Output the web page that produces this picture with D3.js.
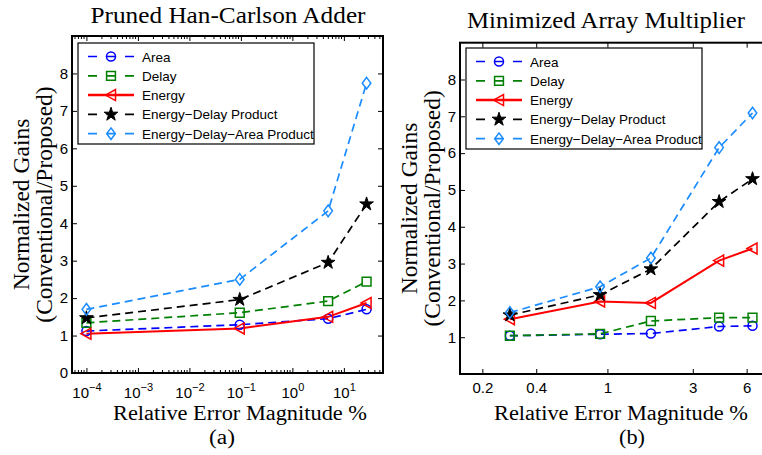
<!DOCTYPE html>
<html>
<head>
<meta charset="utf-8">
<script src="https://cdn.jsdelivr.net/npm/d3@7"></script>
<style>
  body { margin: 0; background: #fff; }
  svg { display: block; }
  .serif { font-family: "Liberation Serif", "DejaVu Serif", serif; }
  .sans { font-family: "Liberation Sans", Arial, sans-serif; }
</style>
</head>
<body>
<svg id="chart" width="762" height="455"></svg>
<script>
// ---- data ----
const seriesNames = ["Area", "Delay", "Energy", "Energy\u2212Delay Product", "Energy\u2212Delay\u2212Area Product"];

// (a) Pruned Han-Carlson Adder
const errA = [0.0001, 0.095, 4.95, 27.6];
const areaA = [1.12, 1.29, 1.45, 1.70];
const delayA = [1.34, 1.61, 1.92, 2.44];
const energyA = [1.05, 1.19, 1.50, 1.87];
const edpA = [1.47, 1.96, 2.95, 4.51];
const edapA = [1.70, 2.50, 4.33, 7.74];

// (b) Minimized Array Multiplier
const errB = [0.285, 0.91, 1.75, 4.21, 6.47];
const areaB = [1.04, 1.08, 1.10, 1.29, 1.31];
const delayB = [1.04, 1.09, 1.44, 1.53, 1.53];
const energyB = [1.49, 1.97, 1.93, 3.08, 3.41];
const edpB = [1.60, 2.15, 2.85, 4.68, 5.30];
const edapB = [1.67, 2.37, 3.15, 6.15, 7.09];

const yTicksA = [0, 1, 2, 3, 4, 5, 6, 7, 8];
const yTicksB = [1, 2, 3, 4, 5, 6, 7, 8];
const xTicksA = [-4, -3, -2, -1, 0, 1];       // exponents
const xTicksB = [0.2, 0.4, 1, 3, 6];

const colors = ["#0000ff", "#008000", "#ff0000", "#000000", "#1a8cff"];
const markers = ["circle", "square", "triangle", "star", "diamond"];

const svg = d3.select("#chart");

function markerPath(kind) {
  if (kind === "circle") return d3.symbol(d3.symbolCircle, 64)();
  if (kind === "square") return d3.symbol(d3.symbolSquare, 78)();
  if (kind === "star") return d3.symbol(d3.symbolStar, 58)();
  if (kind === "triangle") return "M-5.5,0L4.5,-5.5L4.5,5.5Z";
  return "M0,-5.8L4.3,0L0,5.8L-4.3,0Z";
}

function drawMarker(g, kind, color, x, y) {
  g.append("path")
    .attr("d", markerPath(kind))
    .attr("transform", `translate(${x},${y})`)
    .attr("fill", kind === "star" ? color : "none")
    .attr("stroke", color)
    .attr("stroke-width", kind === "star" ? 1 : 1.5);
}

// serif label stretched to the width it has in the original figure
function serifText(g, x, y, size, len, txt) {
  return g.append("text").attr("class", "serif")
    .attr("x", x).attr("y", y)
    .attr("text-anchor", "middle").attr("font-size", size)
    .attr("textLength", len).attr("lengthAdjust", "spacingAndGlyphs").text(txt);
}

function panel(opt) {
  const g = svg.append("g");
  const x = opt.x, y = opt.y;
  const [x0, x1] = x.range();
  const [y0, y1] = y.range();

  g.append("defs").append("clipPath").attr("id", "clip" + opt.id)
    .append("rect").attr("x", x0).attr("y", y1).attr("width", x1 - x0).attr("height", y0 - y1);

  // data lines and markers
  const line = d3.line().x(d => x(d[0])).y(d => y(d[1]));
  const plot = g.append("g").attr("clip-path", `url(#clip${opt.id})`);
  opt.series.forEach((vals, i) => {
    const pts = opt.xs.map((xv, j) => [xv, vals[j]]);
    plot.append("path")
      .attr("d", line(pts))
      .attr("fill", "none")
      .attr("stroke", colors[i])
      .attr("stroke-width", i === 2 ? 2 : 1.7)
      .attr("stroke-dasharray", i === 2 ? null : "8,5");
  });
  opt.series.forEach((vals, i) => {
    opt.xs.forEach((xv, j) => drawMarker(plot, markers[i], colors[i], x(xv), y(vals[j])));
  });

  // ticks (inward) on all four sides
  const ax = g.append("g").attr("class", "sans");
  const bottom = d3.axisBottom(x).tickValues(opt.xTickVals).tickSizeInner(-5).tickSizeOuter(0)
    .tickPadding(opt.xPad).tickFormat(opt.xFmt);
  const top = d3.axisTop(x).tickValues(opt.xTickVals).tickSizeInner(-5).tickSizeOuter(0).tickFormat("");
  const left = d3.axisLeft(y).tickValues(opt.yTickVals).tickSizeInner(-5).tickSizeOuter(0).tickPadding(4);
  const right = d3.axisRight(y).tickValues(opt.yTickVals).tickSizeInner(-5).tickSizeOuter(0).tickFormat("");

  const bg = ax.append("g").attr("transform", `translate(0,${y0})`).call(bottom);
  ax.append("g").attr("transform", `translate(0,${y1})`).call(top);
  ax.append("g").attr("transform", `translate(${x0},0)`).call(left);
  ax.append("g").attr("transform", `translate(${x1},0)`).call(right);

  if (opt.minor) {
    opt.minor.forEach(v => {
      ax.append("line").attr("x1", x(v)).attr("x2", x(v)).attr("y1", y0).attr("y2", y0 - 3).attr("stroke", "#000");
      ax.append("line").attr("x1", x(v)).attr("x2", x(v)).attr("y1", y1).attr("y2", y1 + 3).attr("stroke", "#000");
    });
  }

  ax.selectAll(".domain").remove();
  ax.selectAll(".tick line").attr("stroke", "#000");
  ax.selectAll("text").attr("font-size", 15).attr("fill", "#000");
  if (opt.superscript) {
    bg.selectAll(".tick text").each(function (d) {
      const e = Math.round(Math.log10(d));
      const t = d3.select(this).text("");
      t.append("tspan").text("10");
      t.append("tspan").attr("dy", -7).attr("font-size", 11).text(e < 0 ? "\u2212" + Math.abs(e) : e);
    });
  }

  // frame
  g.append("rect").attr("x", x0).attr("y", y1).attr("width", x1 - x0).attr("height", y0 - y1)
    .attr("fill", "none").attr("stroke", "#000").attr("stroke-width", 2);

  // legend
  const lg = g.append("g").attr("transform", `translate(${opt.legend[0]},${opt.legend[1]})`);
  lg.append("rect").attr("width", 236).attr("height", 101).attr("fill", "#fff")
    .attr("stroke", "#000").attr("stroke-width", 1.2);
  seriesNames.forEach((name, i) => {
    const ry = 13.5 + i * 19.3;
    lg.append("line").attr("x1", 10).attr("x2", 56).attr("y1", ry).attr("y2", ry)
      .attr("stroke", colors[i]).attr("stroke-width", i === 2 ? 2.5 : 1.7)
      .attr("stroke-dasharray", i === 2 ? null : "9,9.5,9,9.5,9");
    drawMarker(lg, markers[i], colors[i], 33, ry);
    lg.append("text").attr("class", "sans").attr("x", 64).attr("y", ry + 5)
      .attr("font-size", 13.5).text(name);
  });

  // titles and labels
  serifText(g, opt.titleX, opt.titleY, 24, opt.titleLen, opt.title);
  serifText(g, opt.xlabX, 420, 20, 254, "Relative Error Magnitude %");
  serifText(g, opt.tagX, 444, 20, 26, opt.tag);
  const yc = (y0 + y1) / 2;
  ["Normalized Gains", "(Conventional/Proposed)"].forEach((txt, k) => {
    g.append("text").attr("class", "serif")
      .attr("transform", `translate(${opt.ylabX + k * 23},${yc}) rotate(-90)`)
      .attr("text-anchor", "middle").attr("font-size", 23.5).text(txt);
  });
}

// panel (a): log x axis over ~6 decades
const xA = d3.scaleLog().domain([Math.pow(10, -4.28), Math.pow(10, 1.76)]).range([72, 383]);
const yA = d3.scaleLinear().domain([0, 9]).range([373, 36]);
const minorA = [];
for (let e = -5; e <= 1; e++) for (let m = 2; m <= 9; m++) {
  const v = m * Math.pow(10, e);
  if (v > xA.domain()[0] && v < xA.domain()[1]) minorA.push(v);
}
panel({
  id: "a", x: xA, y: yA, xs: errA,
  series: [areaA, delayA, energyA, edpA, edapA],
  xTickVals: xTicksA.map(e => Math.pow(10, e)), xFmt: d => d, superscript: true, xPad: 14,
  yTickVals: yTicksA, minor: minorA,
  legend: [78, 43], title: "Pruned Han-Carlson Adder", titleX: 228, titleY: 23, titleLen: 275,
  xlabX: 240, tagX: 222, tag: "(a)", ylabX: 29
});

// panel (b): log x axis with custom ticks, right side cropped by the figure edge
const xB = d3.scaleLog().domain([0.15, 8]).range([460, 769]);
const yB = d3.scaleLinear().domain([0, 9]).range([374, 42.7]);
panel({
  id: "b", x: xB, y: yB, xs: errB,
  series: [areaB, delayB, energyB, edpB, edapB],
  xTickVals: xTicksB, xFmt: d3.format("~g"), superscript: false, xPad: 8,
  yTickVals: yTicksB, minor: null,
  legend: [466, 48], title: "Minimized Array Multiplier", titleX: 606, titleY: 28, titleLen: 278,
  xlabX: 621, tagX: 632, tag: "(b)", ylabX: 417
});
</script>
</body>
</html>
